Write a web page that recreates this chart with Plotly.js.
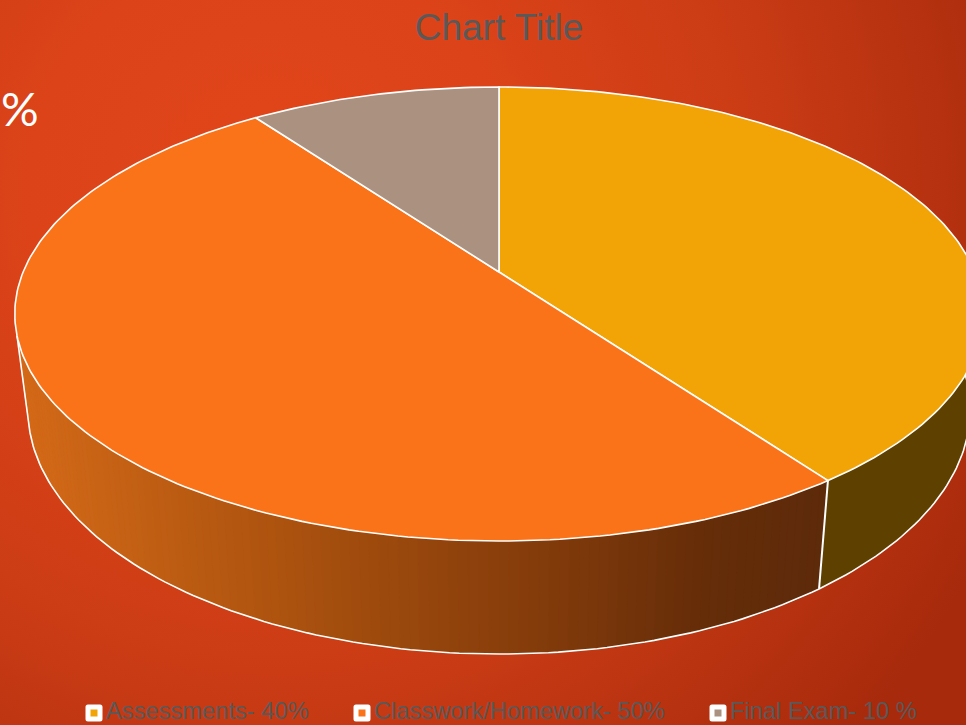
<!DOCTYPE html>
<html><head><meta charset="utf-8">
<script src="https://cdn.plot.ly/plotly-3.0.1.min.js"></script>
<style>
html,body{margin:0;padding:0;width:966px;height:725px;overflow:hidden;
background:radial-gradient(circle 800px at 270px 190px,#e2461a 0%,#dc4319 30%,#cb3c15 60%,#a72a0c 100%);}
#chart{width:966px;height:725px;}
path.point{stroke-linejoin:round;}
</style></head><body><div id="chart"></div>
<script>
const labels = ["Assessments- 40%", "Classwork/Homework- 50%", "Final Exam- 10 %"];
const values = [40, 50, 10];
const topColors = ["#f2a305", "#fb7319", "#ab9180"];
const sideStops = [[28, [212,106,24]], [250, [178,86,16]], [500, [138,63,11]], [700, [102,45,9]], [830, [92,42,10]]];
const yellowSide = "#5e4000";
const legendMarkerX = [94, 362, 718];
const legendMarkerY = 713;
const legendTextY = 711;

// perspective model of the pie disc
const CX = 499, CY = 272, D = 5.405, GY = 1185, FX = 2572, H = 498, SHRINK = 0.973;
const rad = t => t * Math.PI / 180;
const topPt = t => { const X = Math.sin(rad(t)), Z = Math.cos(rad(t));
  return [CX + FX * X / (D + Z), CY - GY * Z / (D + Z)]; };
const botPt = t => { const p = topPt(t), Z = Math.cos(rad(t));
  return [CX + SHRINK * (p[0] - CX), p[1] + H / (D + Z)]; };
const arc = (a, b, fn) => { const n = Math.max(2, Math.ceil(Math.abs(b - a))), o = [];
  for (let i = 0; i <= n; i++) o.push(fn(a + (b - a) * i / n)); return o; };
const sideColor = x => { let s = sideStops;
  if (x <= s[0][0]) return `rgb(${s[0][1]})`;
  for (let i = 1; i < s.length; i++) if (x <= s[i][0]) {
    const f = (x - s[i-1][0]) / (s[i][0] - s[i-1][0]);
    return "rgb(" + s[i][1].map((c, k) => Math.round(s[i-1][1][k] + (c - s[i-1][1][k]) * f)).join(",") + ")"; }
  return `rgb(${s[s.length-1][1]})`; };

const poly = (pts, fill, lw, lc) => ({ type: "scatter", mode: "lines", x: pts.map(p => p[0]), y: pts.map(p => p[1]),
  fill: "toself", fillcolor: fill, line: { color: lc || fill, width: lw }, hoverinfo: "skip", showlegend: false });
const wire = (pts, w) => ({ type: "scatter", mode: "lines", x: pts.map(p => p[0]), y: pts.map(p => p[1]),
  line: { color: "#ffffff", width: w }, hoverinfo: "skip", showlegend: false });

const total = values.reduce((a, b) => a + b, 0);
const bounds = [0];
values.forEach(v => bounds.push(bounds[bounds.length - 1] + v / total * 360));

const traces = [];
const WALL_END = 254, STEP = 1;
// yellow wall
traces.push(poly(arc(80, bounds[1], topPt).concat(arc(bounds[1], 80, botPt)), yellowSide, 0.5));
// classwork wall, shaded from left to right
for (let t = WALL_END; t > bounds[1]; t -= STEP) {
  const e = Math.max(t - STEP, bounds[1]);
  const q = [topPt(t), topPt(e), botPt(e), botPt(t)];
  traces.push(poly(q, sideColor((q[2][0] + q[3][0]) / 2), 1.4));
}
// wall outlines
traces.push(wire(arc(WALL_END, 80, botPt), 1.6));
traces.push(wire([topPt(WALL_END), botPt(WALL_END)], 1.6));
traces.push(wire([topPt(bounds[1]), botPt(bounds[1])], 2));
// top face
values.forEach((v, i) => {
  const pts = [[CX, CY]].concat(arc(bounds[i], bounds[i + 1], topPt)); pts.push([CX, CY]);
  traces.push(poly(pts, topColors[i], 1.6, "#ffffff"));
});
// legend swatches
traces.push({ type: "scatter", mode: "markers", x: legendMarkerX, y: labels.map(() => legendMarkerY),
  marker: { symbol: "square", size: 12, color: topColors, line: { color: "#ffffff", width: 5 } },
  hoverinfo: "skip", showlegend: false, cliponaxis: false });

const annotations = labels.map((l, i) => ({ text: l, x: legendMarkerX[i] + 11, y: legendTextY, xref: "x", yref: "y",
  xanchor: "left", yanchor: "middle", showarrow: false, borderpad: 0,
  font: { family: "Liberation Sans", size: 23.7, color: "#595959" } }));
annotations.push({ text: "%", x: 20, y: 108, xref: "x", yref: "y", showarrow: false,
  font: { family: "Lato", size: 47, color: "#ffffff" } });

const layout = {
  width: 966, height: 725, margin: { l: 0, r: 0, t: 0, b: 0 }, showlegend: false,
  paper_bgcolor: "rgba(0,0,0,0)", plot_bgcolor: "rgba(0,0,0,0)",
  xaxis: { visible: false, range: [0, 966], fixedrange: true },
  yaxis: { visible: false, range: [725, 0], fixedrange: true },
  title: { text: "Chart Title", x: 499 / 966, xanchor: "center", y: 1 - 27 / 725, yanchor: "middle",
    font: { family: "Liberation Sans", size: 37, color: "#595959" } },
  annotations
};
Plotly.newPlot("chart", traces, layout, { displayModeBar: false, staticPlot: true });
</script></body></html>
